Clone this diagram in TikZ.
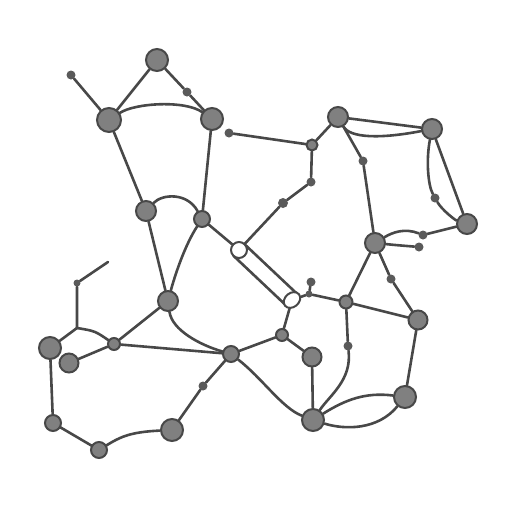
\documentclass[tikz,border=0pt]{standalone}
\usetikzlibrary{backgrounds,shapes.geometric}
\definecolor{edgec}{RGB}{72,72,72}
\definecolor{nodec}{RGB}{128,128,128}
\begin{document}
\begin{tikzpicture}[x=1pt,y=-1pt,
  edge/.style={draw=edgec, line width=2.6pt, line cap=round},
  nd/.style={circle, draw=edgec, fill=nodec, line width=2pt, inner sep=0pt, minimum size=#1},
  dot/.style={circle, fill=edgec!90!white, draw=none, inner sep=0pt, minimum size=#1},
  open/.style={circle, draw=edgec, fill=white, line width=2pt, inner sep=0pt, minimum size=#1}]
\useasboundingbox (0,0) rectangle (512,512);
% main nodes
\node[nd=22pt] (A) at (157,60) {};
\node[nd=24pt] (B) at (109,120) {};
\node[nd=22pt] (C) at (212,119) {};
\node[nd=20pt] (D) at (146,211) {};
\node[nd=16pt] (E) at (202,219) {};
\node[open=16pt] (F) at (239,250) {};
\node[nd=11pt] (H) at (312,145) {};
\node[nd=20pt] (I) at (338,117) {};
\node[nd=20pt] (J) at (432,129) {};
\node[nd=20pt] (K) at (375,243) {};
\node[nd=20pt] (L) at (467,224) {};
\node[ellipse, draw=edgec, fill=white, line width=2pt, inner sep=0pt, minimum width=18pt, minimum height=14pt, rotate=40] (M) at (292,300) {};
\node[nd=13pt] (N) at (346,302) {};
\node[nd=19pt] (O) at (418,320) {};
\node[nd=20pt] (G) at (168,301) {};
\node[nd=22pt] (P) at (50,348) {};
\node[nd=12pt] (Q) at (114,344) {};
\node[nd=19pt] (R) at (69,363) {};
\node[nd=16pt] (S) at (231,354) {};
\node[nd=22pt] (T) at (172,430) {};
\node[nd=16pt] (U) at (53,423) {};
\node[nd=16pt] (V) at (99,450) {};
\node[nd=12pt] (W) at (282,335) {};
\node[nd=19pt] (Y) at (312,357) {};
\node[nd=22pt] (X) at (313,420) {};
\node[nd=22pt] (Z) at (405,397) {};
% small dots
\node[dot=9pt] (d1) at (71,75) {};
\node[dot=9pt] (d2) at (187,92) {};
\node[dot=9pt] (d3) at (229,133) {};
\node[dot=9pt] (d4) at (311,182) {};
\node[dot=10pt] (d5) at (283,203) {};
\node[dot=9pt] (d6) at (363,161) {};
\node[dot=9pt] (d7) at (435,198) {};
\node[dot=9pt] (d8) at (423,235) {};
\node[dot=9pt] (d9) at (419,247) {};
\node[dot=9pt] (d10) at (311,282) {};
\node[dot=7pt] (d11) at (309,294) {};
\node[dot=9pt] (d12) at (391,279) {};
\node[dot=7pt] (d13) at (77,283) {};
\node[dot=9pt] (d14) at (203,386) {};
\node[dot=9pt] (d15) at (348,346) {};
\coordinate (c1) at (108,262);
\coordinate (c2) at (77,328);
\begin{scope}[on background layer]
\draw[edge] (d1) -- (B);
\draw[edge] (B) -- (A);
\draw[edge] (A) -- (d2) -- (C);
\draw[edge] (B) .. controls (135,103) and (185,100) .. (C);
\draw[edge] (B) -- (D);
\draw[edge] (C) -- (E);
\draw[edge] (D) .. controls (162,194) and (187,192) .. (E);
\draw[edge] (E) -- (F);
\draw[edge] (F) -- (d5) -- (d4) -- (H);
\draw[edge] (d3) -- (H);
\draw[edge] (H) -- (I);
\draw[edge] (I) -- (J);
\draw[edge] (I) .. controls (350,138) and (380,139) .. (J);
\draw[edge] (I) -- (d6) -- (K);
\draw[edge] (J) -- (L);
\draw[edge] (J) .. controls (426,160) and (428,185) .. (d7);
\draw[edge] (d7) .. controls (442,210) and (455,220) .. (L);
\draw[edge] (K) .. controls (393,232) and (405,228) .. (d8);
\draw[edge] (d8) -- (L);
\draw[edge] (K) .. controls (395,245) .. (d9);
\draw[edge] (K) -- (N);
\draw[edge] (K) -- (d12) -- (O);
\draw[edge] (N) -- (O);
\draw[edge] ([shift={(-5.5,5.8)}]F.center) -- ([shift={(-5.5,5.8)}]M.center);
\draw[edge] ([shift={(5.5,-5.8)}]F.center) -- ([shift={(5.5,-5.8)}]M.center);
\draw[edge] (M) -- (d11) -- (N);
\draw[edge] (d10) -- (d11);
\draw[edge] (D) -- (G);
\draw[edge] (E) .. controls (185,245) and (175,275) .. (G);
\draw[edge] (G) -- (Q);
\draw[edge] (G) .. controls (172,330) and (200,345) .. (S);
\draw[edge] (Q) -- (S);
\draw[edge] (Q) -- (R);
\draw[edge] (c1) -- (d13) -- (c2);
\draw[edge] (c2) -- (P);
\draw[edge] (c2) .. controls (95,331) .. (Q);
\draw[edge] (P) -- (U);
\draw[edge] (U) -- (V);
\draw[edge] (V) .. controls (120,437) and (130,432) .. (T);
\draw[edge] (S) -- (d14) -- (T);
\draw[edge] (S) -- (W);
\draw[edge] (S) .. controls (262,378) and (282,408) .. (X);
\draw[edge] (W) -- (M);
\draw[edge] (W) -- (Y);
\draw[edge] (Y) -- (X);
\draw[edge] (N) -- (d15);
\draw[edge] (d15) .. controls (352,380) and (330,395) .. (X);
\draw[edge] (X) .. controls (345,400) and (365,392) .. (Z);
\draw[edge] (X) .. controls (345,430) and (378,430) .. (Z);
\draw[edge] (O) -- (Z);
\end{scope}
\end{tikzpicture}
\end{document}
